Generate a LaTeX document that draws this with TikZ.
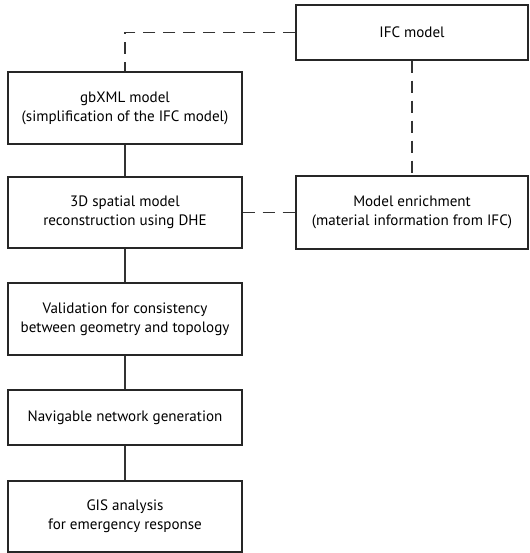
\documentclass[tikz,border=0pt]{standalone}
\usepackage{fontspec}
\setmainfont{PT Sans}
\usetikzlibrary{positioning}

\tikzset{
	kasten/.style={draw=black!85, line width=0.8pt, align=center, inner sep=0pt, font=\fontsize{11.3}{14.4}\selectfont},
	strich/.style={-, line width=0.8pt, draw=black!80},
	gestrichelt/.style={strich, dash pattern=on 9pt off 6pt}
}

\begin{document}
\begin{tikzpicture}[x=0.75pt, y=-0.75pt]

	\useasboundingbox (0,0) rectangle (529,553);

	\node[kasten, minimum width=174pt, minimum height=41.25pt](ifc) at (412,32.5) {IFC model};
	\node[kasten, minimum width=175.5pt, minimum height=54pt](gbxml) at (125,108) {gbXML model\\(simplification of the IFC model)};
	\node[kasten, minimum width=175.5pt, minimum height=53.25pt](dhe) at (125,212.5) {3D spatial model\\reconstruction using DHE};
	\node[kasten, minimum width=174pt, minimum height=54.75pt](enrich) at (412,212.5) {Model enrichment\\(material information from IFC)};
	\node[kasten, minimum width=175.5pt, minimum height=54pt](valid) at (125,319) {Validation for consistency\\between geometry and topology};
	\node[kasten, minimum width=175.5pt, minimum height=41.25pt](navi) at (125,417.5) {Navigable network generation};
	\node[kasten, minimum width=175.5pt, minimum height=53.25pt](gis) at (125,516.5) {GIS analysis\\for emergency response};

	% durchgezogene Linien
	\draw[strich](gbxml) -- (dhe);
	\draw[strich](dhe) -- (valid);
	\draw[strich](valid) -- (navi);
	\draw[strich](navi) -- (gis);

	% gestrichelte Linien
	\draw[gestrichelt](ifc.west) -| (gbxml.north);
	\draw[gestrichelt](ifc) -- (enrich);
	\draw[gestrichelt](dhe) -- (enrich);

\end{tikzpicture}
\end{document}
